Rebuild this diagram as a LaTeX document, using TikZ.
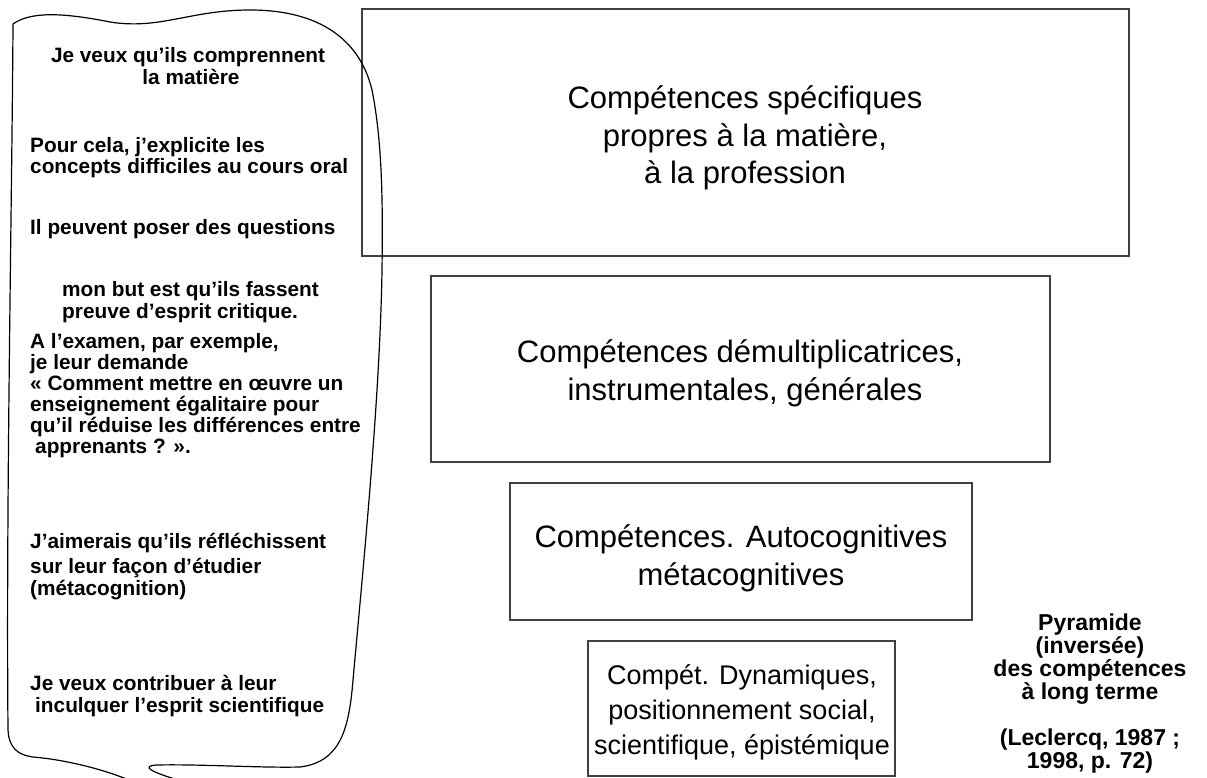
\documentclass[tikz,border=0pt]{standalone}
\usepackage{fontspec}
\setmainfont{Liberation Sans}
\begin{document}
\begin{tikzpicture}[x=1pt,y=-1pt,
  box/.style={draw=black!75,line width=1.5pt},
  lt/.style={inner sep=0pt,font=\bfseries\fontsize{20.8}{22}\selectfont},
  bt/.style={inner sep=0pt,anchor=base,font=\fontsize{31}{36}\selectfont},
  st/.style={inner sep=0pt,anchor=base,font=\fontsize{27}{34}\selectfont},
  pt/.style={inner sep=0pt,anchor=base,font=\bfseries\fontsize{23}{25}\selectfont},
  scroll/.style={draw=black,line width=1.2pt}]
\useasboundingbox (0,0) rectangle (1207,778);
% boxes
\draw[box] (362,9) rectangle (1129,256);
\draw[box] (431,276) rectangle (1050,462);
\draw[box] (510,483) rectangle (972,620);
\draw[box] (588,641) rectangle (895,776);
% scroll
\begin{scope}
\clip (0,0) rectangle (1207,778);
\draw[scroll] (13,24) .. controls (30,12) and (60,12) .. (110,22)
  .. controls (160,30) and (190,10) .. (250,10)
  .. controls (320,10) and (360,40) .. (372,90)
  .. controls (382,140) and (383,200) .. (382,270)
  .. controls (380,400) and (362,580) .. (353,680)
  .. controls (349,730) and (340,762) .. (300,767)
  .. controls (260,768) and (200,764) .. (157,765)
  .. controls (140,766) and (150,772) .. (185,782)
  .. controls (200,790) and (170,800) .. (150,790)
  .. controls (120,773) and (70,760) .. (33,757)
  .. controls (18,755) and (9,748) .. (8,730)
  .. controls (6,500) and (12,200) .. (13,24);
\end{scope}
% box texts
\node[bt] (b1a) at (745,109) {Compétences spécifiques};
\node[bt] (b1b) at (745,147) {propres à la matière,};
\node[bt] (b1c) at (745,184) {à la profession};
\node[bt] (b2a) at (740,362) {Compétences démultiplicatrices,};
\node[bt] (b2b) at (745,400) {instrumentales, générales};
\node[bt] (b3a) at (741,547) {Compétences. Autocognitives};
\node[bt] (b3b) at (741,585) {métacognitives};
\node[st] (b4a) at (742,684) {Compét. Dynamiques,};
\node[st] (b4b) at (742,719) {positionnement social,};
\node[st] (b4c) at (742,754) {scientifique, épistémique};
% left texts
\node[lt,anchor=base] (t1a) at (188,63) {Je veux qu’ils comprennent};
\node[lt,anchor=base] (t1b) at (191,85) {la matière};
\node[lt,anchor=base west] (t2a) at (30,153) {Pour cela, j’explicite les};
\node[lt,anchor=base west] (t2b) at (30,174) {concepts difficiles au cours oral};
\node[lt,anchor=base west] (t3) at (30,234) {Il peuvent poser des questions};
\node[lt,anchor=base west] (t4a) at (62,296) {mon but est qu’ils fassent};
\node[lt,anchor=base west] (t4b) at (62,318) {preuve d’esprit critique.};
\node[lt,anchor=base west] (t5a) at (30,348) {A l’examen, par exemple,};
\node[lt,anchor=base west] (t5b) at (30,369) {je leur demande};
\node[lt,anchor=base west] (t5c) at (30,390) {« Comment mettre en œuvre un};
\node[lt,anchor=base west] (t5d) at (30,411) {enseignement égalitaire pour};
\node[lt,anchor=base west] (t5e) at (30,432) {qu’il réduise les différences entre};
\node[lt,anchor=base west] (t5f) at (35,453) {apprenants ? ».};
\node[lt,anchor=base west] (t6a) at (30,548) {J’aimerais qu’ils réfléchissent};
\node[lt,anchor=base west] (t6b) at (30,573) {sur leur façon d’étudier};
\node[lt,anchor=base west] (t6c) at (30,595) {(métacognition)};
\node[lt,anchor=base west] (t7a) at (30,690) {Je veux contribuer à leur};
\node[lt,anchor=base west] (t7b) at (35,712) {inculquer l’esprit scientifique};
% pyramid label
\node[pt] (p1) at (1090,630) {Pyramide};
\node[pt] (p2) at (1090,653) {(inversée)};
\node[pt] (p3) at (1090,676) {des compétences};
\node[pt] (p4) at (1090,699) {à long terme};
\node[pt] (p5) at (1090,745) {(Leclercq, 1987 ;};
\node[pt] (p6) at (1090,768) {1998, p. 72)};
\end{tikzpicture}
\end{document}
